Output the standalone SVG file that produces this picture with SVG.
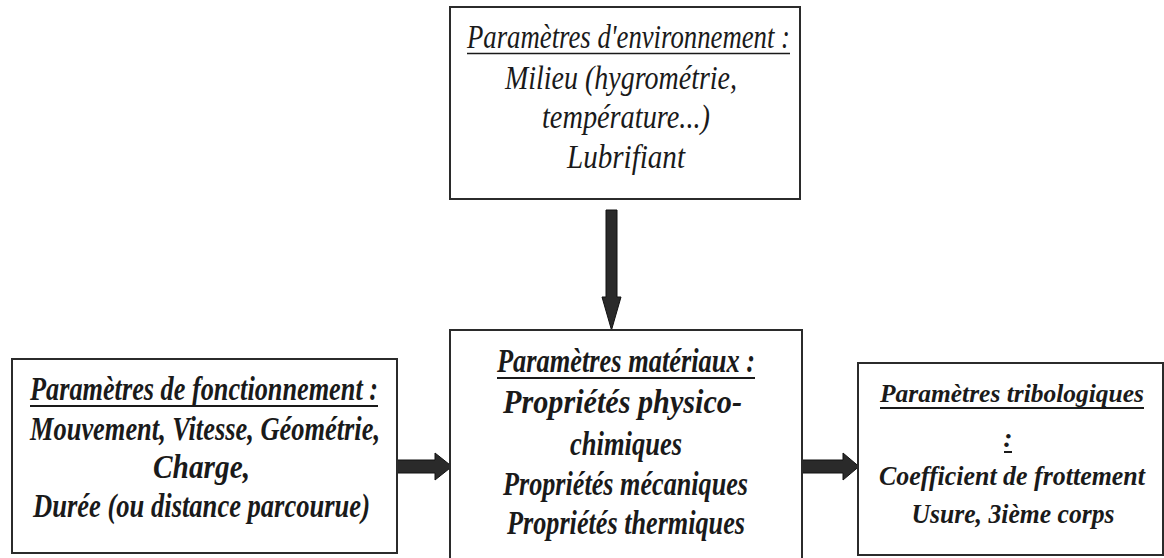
<svg xmlns="http://www.w3.org/2000/svg" width="1164" height="558" viewBox="0 0 1164 558">
  <style>
    .box { fill: #ffffff; stroke: #2b2b2b; stroke-width: 2; }
    .t { font-family: "Liberation Serif", "Times New Roman", serif; font-style: italic; font-size: 33px; fill: #1a1a1a; text-anchor: middle; }
    .b { font-weight: bold; }
    .r { font-size: 28px; }
    .rt { font-size: 26px; }
    .ul { stroke: #1a1a1a; stroke-width: 2; }
    .arrow { fill: #2a2a2a; stroke: #111111; stroke-width: 1; }
  </style>
  <rect width="1164" height="558" fill="#ffffff"/>

  <g id="connectors">
    <polygon class="arrow" points="606,210 617,210 617,297 621,297 611.5,330 602,297 606,297"/>
    <polygon class="arrow" points="395,460 435,460 435,453 452,466.5 435,480 435,473 395,473"/>
    <polygon class="arrow" points="802,460 843,460 843,453 859,466.5 843,480 843,473 802,473"/>
  </g>

  <g id="node-environnement">
    <rect class="box" x="450" y="7" width="350" height="192"/>
    <text class="t" x="628.5" y="48" textLength="323" lengthAdjust="spacingAndGlyphs">Paramètres d'environnement :</text>
    <line class="ul" x1="467" y1="53.5" x2="790" y2="53.5" style="stroke-width:1.5"/>
    <text class="t" x="621" y="89" textLength="232" lengthAdjust="spacingAndGlyphs">Milieu (hygrométrie,</text>
    <text class="t" x="626" y="128" textLength="168" lengthAdjust="spacingAndGlyphs">température...)</text>
    <text class="t" x="626" y="168" textLength="118" lengthAdjust="spacingAndGlyphs">Lubrifiant</text>
  </g>

  <g id="node-fonctionnement">
    <rect class="box" x="12" y="359" width="385" height="194"/>
    <text class="t b" x="204" y="400" textLength="348" lengthAdjust="spacingAndGlyphs">Paramètres de fonctionnement :</text>
    <line class="ul" x1="30" y1="406" x2="378" y2="406"/>
    <text class="t b" x="205" y="440" textLength="350" lengthAdjust="spacingAndGlyphs">Mouvement, Vitesse, Géométrie,</text>
    <text class="t b" x="201.5" y="478" textLength="97" lengthAdjust="spacingAndGlyphs">Charge,</text>
    <text class="t b" x="201.5" y="517" textLength="337" lengthAdjust="spacingAndGlyphs">Durée (ou distance parcourue)</text>
  </g>

  <g id="node-materiaux">
    <rect class="box" x="450" y="330" width="352" height="240"/>
    <text class="t b" x="626" y="372" textLength="258" lengthAdjust="spacingAndGlyphs">Paramètres matériaux :</text>
    <line class="ul" x1="497" y1="378" x2="755" y2="378"/>
    <text class="t b" x="622.5" y="413" textLength="239" lengthAdjust="spacingAndGlyphs">Propriétés physico-</text>
    <text class="t b" x="626" y="455" textLength="112" lengthAdjust="spacingAndGlyphs">chimiques</text>
    <text class="t b" x="625.5" y="495" textLength="245" lengthAdjust="spacingAndGlyphs">Propriétés mécaniques</text>
    <text class="t b" x="626" y="534" textLength="238" lengthAdjust="spacingAndGlyphs">Propriétés thermiques</text>
  </g>

  <g id="node-tribologiques">
    <rect class="box" x="858" y="363" width="305" height="192"/>
    <text class="t b rt" x="1012" y="402" textLength="264" lengthAdjust="spacingAndGlyphs">Paramètres tribologiques</text>
    <line class="ul" x1="880" y1="408" x2="1144" y2="408"/>
    <text class="t b r" x="1008" y="447">:</text>
    <line class="ul" x1="1004" y1="452" x2="1012" y2="452"/>
    <text class="t b r" x="1012" y="485" textLength="266" lengthAdjust="spacingAndGlyphs">Coefficient de frottement</text>
    <text class="t b r" x="1013" y="523" textLength="203" lengthAdjust="spacingAndGlyphs">Usure, 3ième corps</text>
  </g>
</svg>
